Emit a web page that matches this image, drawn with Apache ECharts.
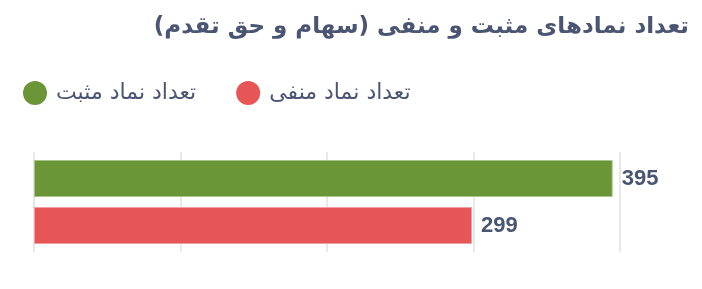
<!DOCTYPE html>
<html>
<head>
<meta charset="utf-8">
<script src="https://cdn.jsdelivr.net/npm/echarts@6/dist/echarts.min.js"></script>
<style>
html,body{margin:0;padding:0;background:#fff;}
#c{position:absolute;left:0;top:0;width:702px;height:289px;}
</style>
</head>
<body>
<div id="c" dir="rtl"></div>
<script>
const titleText = 'تعداد نمادهای مثبت و منفی (سهام و حق تقدم)';
const categories = [''];
const seriesNames = ['تعداد نماد مثبت', 'تعداد نماد منفی'];
const positiveValues = [395];
const negativeValues = [299];
const seriesColors = ['#6a9637', '#e65656'];

const textColor = '#4a5573';
const fontFam = '"DejaVu Sans", "Noto Sans", sans-serif';

const chart = echarts.init(document.getElementById('c'), null, {renderer: 'canvas'});
chart.setOption({
  animation: false,
  title: {
    text: titleText,
    right: 8,
    top: 11,
    textStyle: {color: textColor, fontSize: 23, fontWeight: 'bold', fontFamily: fontFam}
  },
  legend: {
    left: 18,
    top: 76,
    itemWidth: 24,
    itemHeight: 24,
    itemGap: 40,
    icon: 'circle',
    itemStyle: {borderWidth: 0},
    textStyle: {color: textColor, fontSize: 22, fontFamily: fontFam, padding: [0, 0, 0, 4]},
    data: seriesNames
  },
  grid: {left: 34, right: 82, top: 152, bottom: 37, containLabel: false},
  xAxis: {
    type: 'value',
    min: 0,
    max: 400,
    interval: 100,
    axisLabel: {show: false},
    axisLine: {show: false},
    axisTick: {show: false},
    splitLine: {show: true, lineStyle: {color: '#e8e8e8', width: 2}}
  },
  yAxis: {
    type: 'category',
    data: categories,
    inverse: true,
    axisLabel: {show: false},
    axisLine: {show: false},
    axisTick: {show: false}
  },
  series: [
    {
      name: seriesNames[0],
      type: 'bar',
      data: positiveValues,
      barWidth: 37,
      barGap: '27%',
      itemStyle: {color: seriesColors[0], borderColor: '#a9c48a', borderWidth: 1},
      label: {show: true, position: 'right', distance: 9, color: textColor, fontSize: 22, fontWeight: 'bold', fontFamily: '"Liberation Sans", Arial, sans-serif'}
    },
    {
      name: seriesNames[1],
      type: 'bar',
      data: negativeValues,
      barWidth: 37,
      itemStyle: {color: seriesColors[1], borderColor: '#f0a0a0', borderWidth: 1},
      label: {show: true, position: 'right', distance: 9, color: textColor, fontSize: 22, fontWeight: 'bold', fontFamily: '"Liberation Sans", Arial, sans-serif'}
    }
  ]
});
</script>
</body>
</html>
